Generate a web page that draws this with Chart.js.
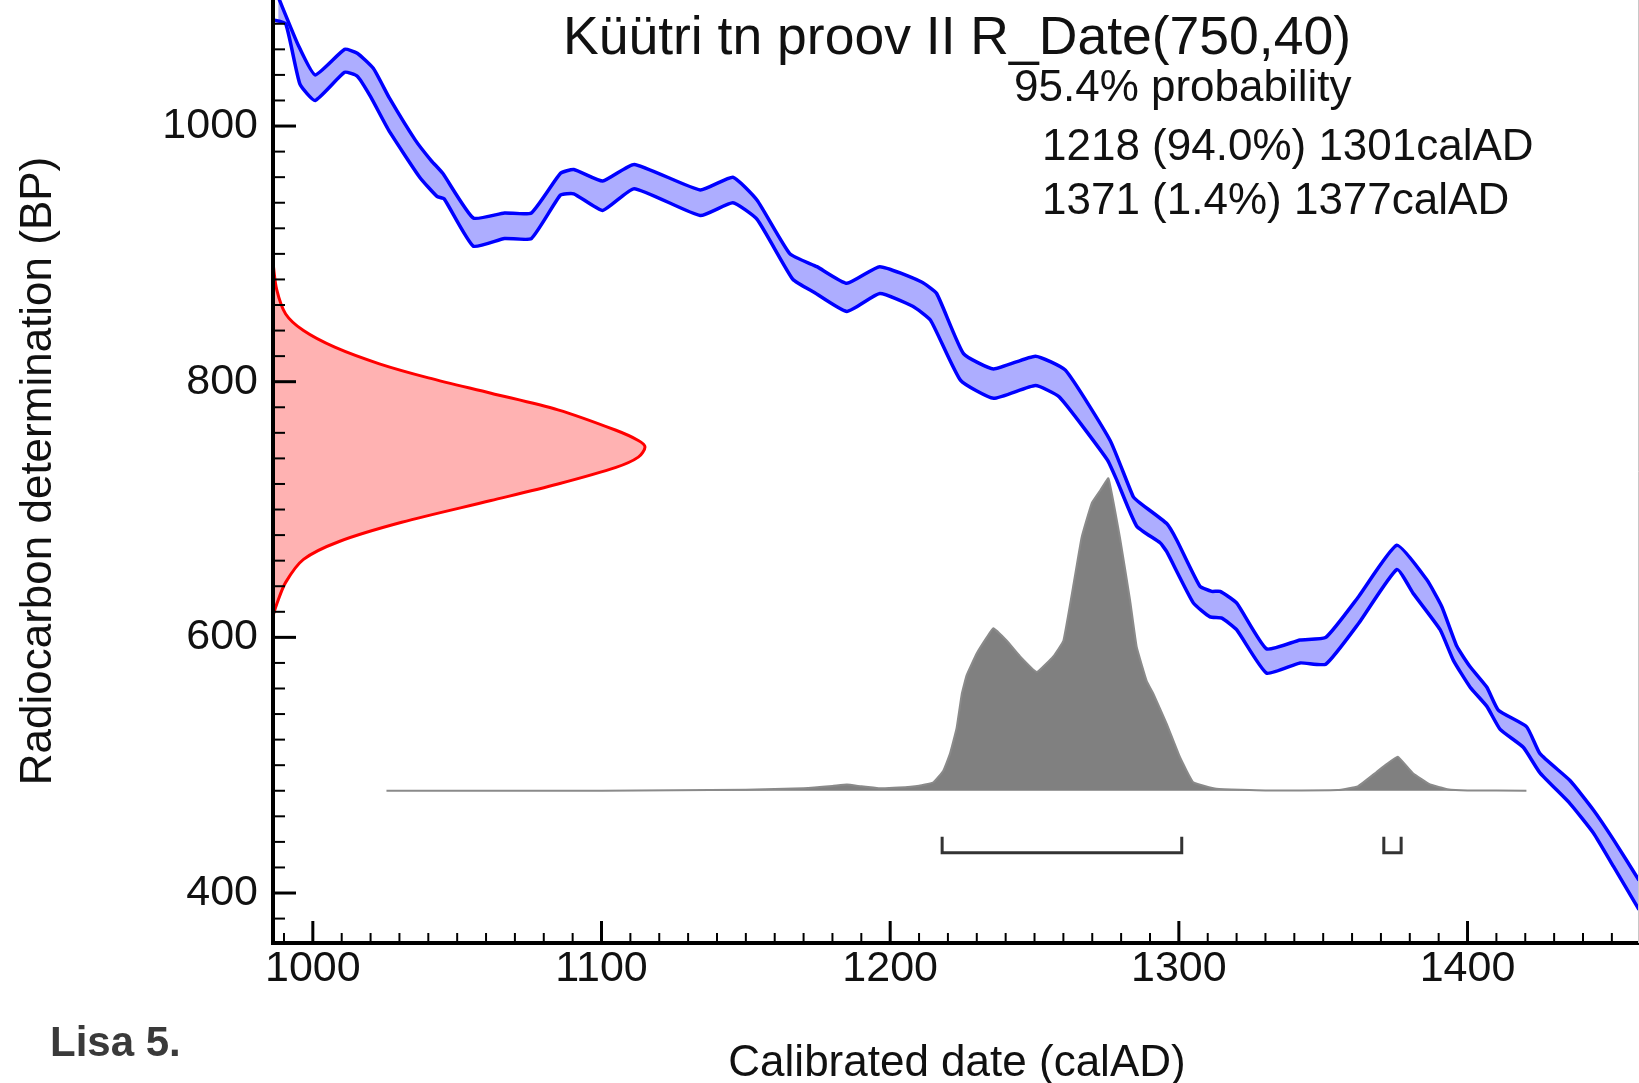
<!DOCTYPE html>
<html>
<head>
<meta charset="utf-8">
<title>Küütri tn proov II R_Date(750,40)</title>
<script src="https://cdn.jsdelivr.net/npm/chart.js@4.4.1/dist/chart.umd.min.js"></script>
<style>
  html, body { margin: 0; padding: 0; background: #fff; }
  canvas { display: block; }
</style>
</head>
<body>
<canvas id="calChart" width="1639" height="1083"></canvas>
<script>
// Calibration curve band (upper / lower edge), cal AD vs BP
let upperYears = [988, 995, 1000.8, 1011, 1015.4, 1021, 1026.5, 1035.5, 1041, 1045,
    1055.6, 1066.4, 1075.7, 1085.8, 1090.4, 1100.4, 1111.3, 1134.2, 1145.5, 1153.9,
    1165.3, 1174.6, 1185, 1196.4, 1210.9, 1216.1, 1225.4, 1235.8, 1250.3, 1260.7,
    1276.2, 1284.2, 1286.6, 1295.8, 1299.3, 1307.3, 1311.4, 1314.3, 1320, 1330.4,
    1342, 1350.9, 1362.3, 1375.5, 1385.9, 1391.1, 1396.3, 1400.9, 1406.7, 1410.7,
    1420.5, 1425.1, 1435.5, 1443.6, 1450.5, 1459.4];
let upperBP = [1101, 1063, 1040, 1060, 1057, 1045, 1022, 989, 973, 963,
    928, 932, 932, 963, 966, 957, 970, 950, 960, 942,
    900, 890, 877, 890, 878, 869, 822, 810, 820, 809,
    754, 710, 705, 689, 676, 640, 636, 636, 627, 591,
    598, 600, 632, 672, 645, 624, 593, 577, 561, 543,
    530, 509, 488, 465, 442, 410];

let lowerYears = [986.2, 990.6, 995.5, 1000.8, 1011, 1015.4, 1020, 1026.2, 1037, 1043,
    1045.5, 1055.6, 1066.4, 1075.7, 1085.8, 1090.4, 1100.4, 1111.3, 1134.2, 1145.5,
    1153.9, 1166.3, 1173.6, 1185, 1196.4, 1207.8, 1214, 1224.4, 1235.8, 1250.3,
    1258.6, 1275.2, 1278.5, 1285.4, 1293.5, 1295.8, 1305, 1310.8, 1314.9, 1320,
    1330.4, 1342, 1350.9, 1362.3, 1375.5, 1381.3, 1390.5, 1395.1, 1400.9, 1406.7,
    1411.3, 1419.3, 1425.1, 1435.5, 1443.6, 1450.5, 1459.4];
let lowerBP = [1083, 1080, 1033, 1020, 1042, 1039, 1023, 997, 960, 945,
    943, 906, 912, 912, 946, 947, 934, 951, 930, 940,
    927, 880, 870, 855, 869, 859, 848, 801, 787, 797,
    788, 739, 723, 687, 674, 667, 627, 616, 615, 606,
    572, 580, 579, 611, 653, 634, 606, 582, 561, 546,
    528, 514, 494, 470, 447, 421, 387];

// Radiocarbon measurement R_Date(750,40), relative probability along the BP axis
let measuredBP = [617, 626, 643, 661, 675, 690, 707, 720, 733, 741, 749,
    754, 762, 778, 791, 803, 814, 827, 840, 853, 872, 893];
let measuredProb = [0, 0.01, 0.034, 0.082, 0.178, 0.346, 0.586, 0.766, 0.922, 0.982, 1.0,
    0.982, 0.922, 0.766, 0.586, 0.418, 0.286, 0.166, 0.082, 0.034, 0.01, 0];

// Calibrated date distribution (relative probability)
let calYears = [1025.5, 1100, 1150, 1170, 1180, 1185, 1190, 1196, 1203, 1210,
    1215, 1218.4, 1220.7, 1223, 1224.8, 1226.5, 1230, 1233.4, 1235.7, 1240.4,
    1245, 1250.8, 1256.5, 1260, 1263.5, 1266.3, 1269.8, 1272.7, 1275.6, 1279.6,
    1283.1, 1285.4, 1288.9, 1291.2, 1295.8, 1300.4, 1305, 1313, 1330, 1355,
    1362, 1368.5, 1372, 1375.8, 1381.2, 1387, 1393, 1400, 1420.4];
let calProb = [0, 0, 0.003, 0.008, 0.015, 0.02, 0.014, 0.008, 0.01, 0.016,
    0.027, 0.064, 0.118, 0.2, 0.31, 0.37, 0.44, 0.49, 0.52, 0.48,
    0.43, 0.38, 0.43, 0.48, 0.66, 0.81, 0.92, 0.96, 1.0, 0.81,
    0.61, 0.46, 0.35, 0.31, 0.214, 0.107, 0.027, 0.006, 0.001, 0.002,
    0.014, 0.06, 0.085, 0.109, 0.055, 0.02, 0.005, 0.001, 0];

// 95.4% ranges
let rangeStart = [1218, 1371];
let rangeEnd = [1301, 1377];
let rangePct = ["94.0%", "1.4%"];

// Axis tick labels
let xTickLabels = [1000, 1100, 1200, 1300, 1400];
let yTickLabels = [400, 600, 800, 1000];

const titleText = "Küütri tn proov II R_Date(750,40)";
const FONT = '"Liberation Sans", Arial, sans-serif';

function toPoints(xs, ys) {
    return xs.map((v, i) => ({ x: v, y: ys[i] }));
}

// Axes, ticks, range brackets and all the text
const oxcalDecor = {
    id: "oxcalDecor",
    afterDraw(chart) {
        const ctx = chart.ctx;
        const xs = chart.scales.x, ys = chart.scales.y, yp = chart.scales.yp;
        const a = chart.chartArea;
        ctx.save();

        // range brackets
        const base = yp.getPixelForValue(0);
        ctx.strokeStyle = "#333";
        ctx.lineWidth = 3;
        rangeStart.forEach((s, i) => {
            const x1 = xs.getPixelForValue(s), x2 = xs.getPixelForValue(rangeEnd[i]);
            ctx.beginPath();
            ctx.moveTo(x1, base + 46);
            ctx.lineTo(x1, base + 62);
            ctx.lineTo(x2, base + 62);
            ctx.lineTo(x2, base + 46);
            ctx.stroke();
        });

        // y ticks (inside)
        ctx.strokeStyle = "#000";
        for (let v = 380; v <= 1080; v += 20) {
            const py = ys.getPixelForValue(v);
            const major = v % 200 === 0;
            ctx.lineWidth = major ? 3 : 2;
            ctx.beginPath();
            ctx.moveTo(a.left, py);
            ctx.lineTo(a.left + (major ? 23 : 12), py);
            ctx.stroke();
        }
        // x ticks (inside)
        for (let v = 990; v <= 1450; v += 10) {
            const px = xs.getPixelForValue(v);
            const major = v % 100 === 0;
            ctx.lineWidth = major ? 3 : 2;
            ctx.beginPath();
            ctx.moveTo(px, a.bottom);
            ctx.lineTo(px, a.bottom - (major ? 22 : 10));
            ctx.stroke();
        }
        // axis lines
        ctx.lineWidth = 4;
        ctx.beginPath();
        ctx.moveTo(a.left, a.top);
        ctx.lineTo(a.left, a.bottom + 2);
        ctx.moveTo(a.left - 2, a.bottom);
        ctx.lineTo(a.right, a.bottom);
        ctx.stroke();

        // right border of the picture
        ctx.strokeStyle = "#c8c8c8";
        ctx.lineWidth = 1;
        ctx.beginPath();
        ctx.moveTo(1638.5, 0);
        ctx.lineTo(1638.5, a.bottom);
        ctx.stroke();

        // tick labels
        ctx.fillStyle = "#111";
        ctx.font = "43px " + FONT;
        ctx.textAlign = "right";
        ctx.textBaseline = "middle";
        yTickLabels.forEach(v => ctx.fillText(String(v), a.left - 15, ys.getPixelForValue(v)));
        ctx.textAlign = "center";
        ctx.textBaseline = "alphabetic";
        xTickLabels.forEach(v => ctx.fillText(String(v), xs.getPixelForValue(v), 981));

        // axis titles
        ctx.font = "44px " + FONT;
        ctx.fillText("Calibrated date (calAD)", 957, 1076);
        ctx.save();
        ctx.translate(51, 471);
        ctx.rotate(-Math.PI / 2);
        ctx.fillText("Radiocarbon determination (BP)", 0, 0);
        ctx.restore();

        // title and ranges
        ctx.font = "53.5px " + FONT;
        ctx.fillText(titleText, 957, 54);
        ctx.textAlign = "left";
        ctx.font = "44px " + FONT;
        ctx.fillText("95.4% probability", 1014, 101);
        rangeStart.forEach((s, i) => {
            ctx.fillText(s + " (" + rangePct[i] + ") " + rangeEnd[i] + "calAD", 1042, 160 + i * 54);
        });

        // figure caption
        ctx.fillStyle = "#3a3a3a";
        ctx.font = "bold 42px " + FONT;
        ctx.fillText("Lisa 5.", 50, 1056);
        ctx.restore();
    }
};

const ctx = document.getElementById("calChart").getContext("2d");
new Chart(ctx, {
    type: "scatter",
    data: {
        datasets: [
            {
                label: "upper",
                data: toPoints(upperYears, upperBP),
                showLine: true,
                borderColor: "#0000ff",
                borderWidth: 3.5,
                backgroundColor: "rgba(0, 0, 255, 0.32)",
                fill: "+1",
                tension: 0.15,
                pointRadius: 0,
                order: 0
            },
            {
                label: "lower",
                data: toPoints(lowerYears, lowerBP),
                showLine: true,
                borderColor: "#0000ff",
                borderWidth: 3.5,
                fill: false,
                tension: 0.15,
                pointRadius: 0,
                order: 1
            },
            {
                label: "calibrated",
                data: toPoints(calYears, calProb),
                yAxisID: "yp",
                showLine: true,
                borderColor: "#8a8a8a",
                borderWidth: 2,
                backgroundColor: "#808080",
                fill: "origin",
                tension: 0.1,
                pointRadius: 0,
                order: 2
            },
            {
                label: "measured",
                data: toPoints(measuredProb, measuredBP),
                xAxisID: "xr",
                showLine: true,
                borderColor: "#ff0000",
                borderWidth: 3,
                backgroundColor: "rgba(255, 0, 0, 0.3)",
                fill: "shape",
                tension: 0.3,
                pointRadius: 0,
                order: 3
            }
        ]
    },
    options: {
        responsive: false,
        animation: false,
        layout: { padding: { left: 273, right: 0, top: 0, bottom: 140 } },
        plugins: { legend: { display: false }, tooltip: { enabled: false } },
        scales: {
            x: { type: "linear", display: false, min: 986.2, max: 1459.4 },
            xr: { type: "linear", axis: "x", display: false, min: 0, max: 3.672 },
            y: { type: "linear", display: false, min: 360.9, max: 1098.6 },
            yp: { type: "linear", axis: "y", display: false, min: -0.4875, max: 2.531 }
        }
    },
    plugins: [oxcalDecor]
});
</script>
</body>
</html>
